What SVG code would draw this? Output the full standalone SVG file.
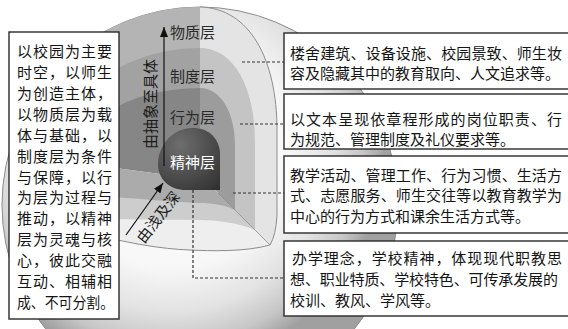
<svg xmlns="http://www.w3.org/2000/svg" width="568" height="329" viewBox="0 0 568 329">
<defs>
<style>
.box{fill:#ffffff;stroke:#2a2a2a;stroke-width:1.4}
.t{font-family:"Noto Sans CJK SC","Noto Sans",sans-serif;font-size:15px;fill:#151515}
.lbl{font-family:"Noto Sans CJK SC","Noto Sans",sans-serif;font-size:15px;fill:#2a2a2a}
.dash{fill:none;stroke:#333333;stroke-width:1.2;stroke-dasharray:3 2}
.arr{fill:none;stroke:#111111;stroke-width:1.2}
.edge{fill:none;stroke:#8c8c8c;stroke-width:1}
</style>
<radialGradient id="sph" gradientUnits="userSpaceOnUse" cx="170" cy="150" r="215">
<stop offset="0" stop-color="#ffffff"/>
<stop offset="0.55" stop-color="#f7f7f7"/>
<stop offset="0.75" stop-color="#e3e3e3"/>
<stop offset="0.9" stop-color="#c6c6c6"/>
<stop offset="1" stop-color="#a0a0a0"/>
</radialGradient>
<radialGradient id="core" gradientUnits="userSpaceOnUse" cx="180" cy="145" r="60">
<stop offset="0" stop-color="#6e6e6e"/>
<stop offset="1" stop-color="#2e2e2e"/>
</radialGradient>
<marker id="ah" viewBox="0 0 10 8" refX="10" refY="4" markerWidth="10" markerHeight="8" markerUnits="userSpaceOnUse" orient="auto">
<path d="M0,0 L10,4 L0,8 Z" fill="#111111"/>
</marker>
</defs>
<rect width="568" height="329" fill="#ffffff"/>

<g id="sphere">
<circle cx="200" cy="205" r="198" fill="url(#sph)" stroke="#8c8c8c" stroke-width="1"/>
<!-- left face -->
<path d="M200,185 L200,7 A198 198 0 0 0 60,65 L60,185 Z" fill="#b4b4b4"/>
<path d="M200,185 L200,48 A152 127 0 0 0 48,175 L48,185 Z" fill="#a2a2a2"/>
<path d="M200,185 L200,88 A135 87 0 0 0 65,175 L65,185 Z" fill="#868686"/>
<!-- right face -->
<path d="M200,180 L200,7 C250,8 277,60 277,130 L277,215 Q276,235 270,245 L205,180 Z" fill="#e4e4e4"/>
<path d="M200,180 L200,48 C235,48 255,90 255,140 L255,230 L205,180 Z" fill="#c4c4c4"/>
<path d="M200,180 L200,88 C222,88 235,115 235,145 L235,210 L205,180 Z" fill="#9c9c9c"/>
<!-- floor -->
<path d="M100,166 L205,180 L270,245 C245,252 210,251 190,250 C160,249 130,243 100,236 Z" fill="#eeeeee"/>
<path d="M100,166 L205,180 L255,230 C240,223 215,220 200,220 L100,219 Z" fill="#cdcdcd"/>
<path d="M100,166 L205,180 L235,210 C225,205 212,203 200,203 C160,201 130,198 100,196 Z" fill="#ababab"/>
<!-- edges -->
<path class="edge" d="M200,7 C250,8 277,60 277,130 L277,215 Q276,235 270,245 C245,252 210,251 190,250 C160,249 130,243 100,236"/>
<path d="M218,193 L270,245" stroke="#8a8a8a" stroke-width="0.8" fill="none"/>
<!-- core -->
<path d="M220,190 L220,152 C218,136 207,128 193,128 C172,128 158,146 158,164 C158,180 170,190 186,190 Z" fill="url(#core)"/>
</g>

<g id="layer-labels">
<text class="lbl" x="170" y="38">物质层</text>
<text class="lbl" x="170" y="82">制度层</text>
<text class="lbl" x="170" y="123">行为层</text>
<text class="lbl" x="170" y="168" fill="#ffffff" style="fill:#ffffff">精神层</text>
<text class="lbl" transform="translate(156,104) rotate(-90)" text-anchor="middle" style="fill:#1a1a1a">由抽象至具体</text>
<text class="lbl" transform="translate(162.5,220.5) rotate(-52)" text-anchor="middle" style="fill:#1a1a1a">由浅及深</text>
</g>

<g id="connectors">
<line class="arr" x1="164" y1="166" x2="164" y2="27" marker-end="url(#ah)"/>
<line class="arr" x1="126" y1="235" x2="163" y2="183" marker-end="url(#ah)"/>
<line class="dash" x1="242" y1="62" x2="284" y2="62"/>
<line class="dash" x1="240" y1="124" x2="284" y2="124"/>
<line class="dash" x1="233" y1="193" x2="284" y2="193"/>
<polyline class="dash" points="193,190 193,278 284,278"/>
</g>

<g id="box-summary">
<rect class="box" x="9" y="32" width="110" height="287"/>
<text class="t" x="17" y="57" textLength="95">以校园为主要</text>
<text class="t" x="17" y="77.9" textLength="95">时空，以师生</text>
<text class="t" x="17" y="98.8" textLength="95">为创造主体，</text>
<text class="t" x="17" y="119.8" textLength="95">以物质层为载</text>
<text class="t" x="17" y="140.7" textLength="95">体与基础，以</text>
<text class="t" x="17" y="161.6" textLength="95">制度层为条件</text>
<text class="t" x="17" y="182.5" textLength="95">与保障，以行</text>
<text class="t" x="17" y="203.4" textLength="95">为层为过程与</text>
<text class="t" x="17" y="224.4" textLength="95">推动，以精神</text>
<text class="t" x="17" y="245.3" textLength="95">层为灵魂与核</text>
<text class="t" x="17" y="266.2" textLength="95">心，彼此交融</text>
<text class="t" x="17" y="287.1" textLength="95">互动、相辅相</text>
<text class="t" x="17" y="308" textLength="97" lengthAdjust="spacingAndGlyphs">成、不可分割。</text>
</g>

<g id="box-material">
<rect class="box" x="284" y="33" width="300" height="56"/>
<text class="t" x="290" y="59" textLength="272">楼舍建筑、设备设施、校园景致、师生妆</text>
<text class="t" x="290" y="79">容及隐藏其中的教育取向、人文追求等。</text>
</g>

<g id="box-system">
<rect class="box" x="284" y="94" width="300" height="55"/>
<text class="t" x="290" y="125" textLength="272">以文本呈现依章程形成的岗位职责、行</text>
<text class="t" x="290" y="145">为规范、管理制度及礼仪要求等。</text>
</g>

<g id="box-behavior">
<rect class="box" x="284" y="156" width="300" height="77"/>
<text class="t" x="290" y="181" textLength="272">教学活动、管理工作、行为习惯、生活方</text>
<text class="t" x="290" y="201" textLength="272">式、志愿服务、师生交往等以教育教学为</text>
<text class="t" x="290" y="222">中心的行为方式和课余生活方式等。</text>
</g>

<g id="box-spirit">
<rect class="box" x="284" y="241" width="300" height="75"/>
<text class="t" x="292" y="264" textLength="270">办学理念，学校精神，体现现代职教思</text>
<text class="t" x="290" y="285" textLength="268">想、职业特质、学校特色、可传承发展的</text>
<text class="t" x="290" y="306">校训、教风、学风等。</text>
</g>
</svg>
